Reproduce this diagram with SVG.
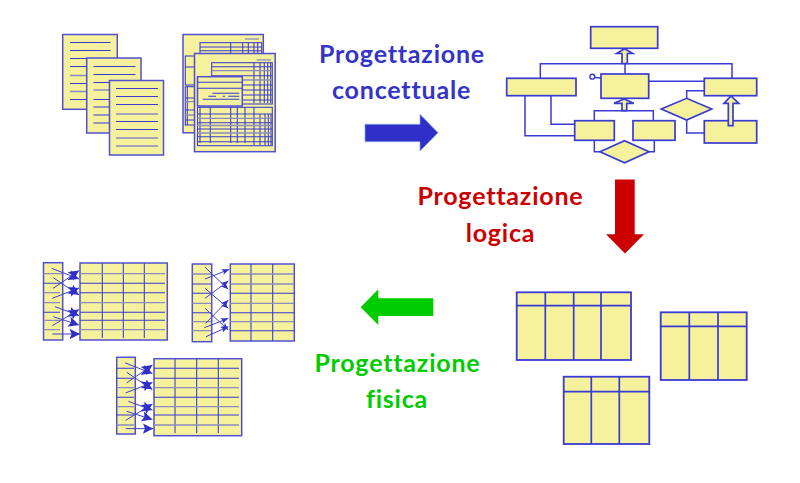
<svg xmlns="http://www.w3.org/2000/svg" width="800" height="483" viewBox="0 0 800 483">
<style>
.box{fill:#f5f19d;stroke:#3a3ad4;stroke-width:1.7}
.soft{fill:#f5f19d;stroke:#5050d0;stroke-width:1.5}
.ln{fill:none;stroke:#3a3ad4;stroke-width:1.05}
.gr{fill:none;stroke:#8c8cc0;stroke-width:1.3}
.wire{fill:none;stroke:#3a3ad4;stroke-width:1.5}
.tb{fill:#f5f19d;stroke:#3a3ad4;stroke-width:1.8}
.tl{fill:none;stroke:#3a3ad4;stroke-width:1.7}
.ar path{fill:none;stroke:#4040d0;stroke-width:1;marker-end:url(#tip)}
.ab path{fill:none;stroke:#4040d0;stroke-width:1;marker-end:url(#tipb)}
.t{font-family:Lato,"Liberation Sans",sans-serif;font-weight:700;font-size:25px;letter-spacing:.8px;text-anchor:middle}
</style>
<defs>
<marker id="tip" viewBox="0 0 10 10" refX="10" refY="5" markerWidth="7.5" markerHeight="7.5" orient="auto" markerUnits="userSpaceOnUse"><path d="M0 1L10 5L0 9L2.5 5z" fill="#3030c8"/></marker>
<marker id="tipb" viewBox="0 0 10 10" refX="10" refY="5" markerWidth="10.5" markerHeight="10.5" orient="auto" markerUnits="userSpaceOnUse"><path d="M0 0L10 5L0 10L2 5z" fill="#3030c8"/></marker>
<g id="links" class="ab">
<path d="M51.7 268.3L79 279"/><path d="M53.3 288.3L79 270.5"/><path d="M53.3 277.7L79 295"/><path d="M52.3 298.3L79 288"/>
<path d="M55 306.7L79 315.5"/><path d="M53.3 316.7L79 325"/><path d="M52.3 325.7L79 309.5"/><path d="M52.3 334L80 334"/>
</g>
</defs>

<g id="doc-1">
<rect class="soft" x="62.7" y="34.5" width="54.6" height="74.8"/>
<path class="ln" d="M70 42.5H110.5M70 50.5H110.5M70 58.5H110.5M70 66.5H110.5M70 83.5H110.5M70 99.5H110.5"/>
<path class="gr" d="M70 75.5H110.5M70 91.5H110.5"/>
</g>
<g id="doc-2">
<rect class="soft" x="86.7" y="58" width="54.3" height="75"/>
<path class="ln" d="M93.5 66.5H135.5M93.5 74.5H135.5M93.5 82.5H135.5M93.5 99.5H135.5M93.5 107H135.5M93.5 115H135.5M93.5 123H135.5"/>
<path class="gr" d="M93.5 90H135.5"/>
</g>
<g id="doc-3">
<rect class="soft" x="109.5" y="80.5" width="54" height="74.5"/>
<path class="ln" d="M116 88.5H158M116 96.5H158M116 104.5H158M116 121.5H158M116 129.5H158"/>
<path class="gr" d="M116 114H158M116 138H158M116 146H158"/>
</g>

<g id="form-back">
<rect class="soft" x="183" y="34.5" width="80.3" height="98.3"/>
<path class="gr" d="M245 39H259"/>
<rect class="ln" x="200" y="42.7" width="61.7" height="20"/>
<path class="ln" d="M200 47H261.7M200 50.7H261.7M230.7 42.7V60M242.7 42.7V60M248.3 42.7V60M254 42.7V60M257.7 42.7V60"/>
<rect class="ln" x="185.3" y="56" width="12" height="29"/>
<path class="ln" d="M185.3 67H197"/>
<rect class="ln" x="185.3" y="86.7" width="12" height="38.3"/>
<path class="ln" d="M187.3 86.7V125M185.3 98H197M185.3 110H197M185.3 120H197"/>
<path class="gr" d="M185.3 101.7H197M185.3 115H197"/>
</g>
<g id="form-front">
<rect class="soft" x="194.5" y="53.5" width="80.7" height="98.2"/>
<path class="gr" d="M256.7 60H271"/>
<rect class="ln" x="211.7" y="62.7" width="60.6" height="41.3"/>
<path class="ln" d="M211.7 66.7H272M211.7 75.7H272M211.7 85H272M211.7 90H272M211.7 95H272M211.7 100H272M254 62.7V103M260 62.7V103M264.3 62.7V103M267.7 62.7V103M270.7 62.7V103"/>
<path class="gr" d="M211.7 70.7H272M211.7 80H272"/>
<rect class="soft" x="197.5" y="76.7" width="44.8" height="29.3"/>
<path class="ln" d="M197.5 82.3H242M197.5 88.3H242M212.3 93.3H239.3M208.3 96.3H216M222.7 96.3H225M228.3 96.3H239.3M202.7 99.3H239.3"/>
<rect class="ln" x="197.5" y="107.3" width="74.8" height="38.4"/>
<path class="ln" d="M197.5 114H272M197.5 122.7H272M197.5 129H272M197.5 136.7H272M197.5 141.7H272M200 107.3V143M210.3 107.3V143M230.7 107.3V143M237.3 107.3V143M245 107.3V143M254 107.3V145M260 114V145M265 114V145M268.3 114V145M271 114V145"/>
<path class="gr" d="M197.5 118.3H272M197.5 125.5H272M197.5 133H272"/>
</g>

<g id="connectors">
<path class="wire" d="M540.3 78.3V63.7H732V78.3M625 74V63.7M648.7 81.3H704.3M704.3 90.7H686.7V98.3M686.7 120V133H704.3M525 95.7V135.7H574.7M551 95.7V124.3H574.7M594.3 120.7V110.7H653.3V120.7M594.3 140.3V151.7H600M654.3 140.3V151.7H649M594.8 77.4L601 78"/>
</g>
<g id="flow-top"><rect class="box" x="590.7" y="26.7" width="67" height="21.6"/></g>
<g id="flow-left"><rect class="box" x="506.7" y="78.3" width="69.3" height="17.4"/></g>
<g id="flow-center"><rect class="box" x="601" y="74" width="47.7" height="24.3"/><circle cx="592.3" cy="76.7" r="2.4" fill="#fff" stroke="#3a3ad4" stroke-width="1.4"/></g>
<g id="flow-right"><rect class="box" x="704.3" y="78.3" width="52.4" height="17.4"/></g>
<g id="flow-lower-right"><rect class="box" x="704.3" y="120.7" width="52.4" height="22.3"/></g>
<g id="flow-mid-1"><rect class="box" x="574.7" y="120.7" width="39.6" height="19.6"/></g>
<g id="flow-mid-2"><rect class="box" x="633" y="120.7" width="42" height="19.6"/></g>
<g id="flow-dia-1"><path class="box" d="M600 151.7L624.5 140.7L649 151.7L624.5 162.7z"/></g>
<g id="flow-dia-2"><path class="box" d="M661.3 109L686.6 98.3L711.7 109L686.6 120z"/></g>
<g id="hollow-arrows">
<path class="box" d="M622 63.5V53.5H616.7L624.6 48.8L632.7 53.5H627.3V63.5z"/>
<path class="box" d="M622 110.7V103.3H614L624.2 99L633.7 103.3H626.7V110.7z"/>
<path class="box" d="M728.3 125.7V103.3H724L731 96L738.7 103.3H733V125.7z"/>
</g>

<g id="table-1">
<rect class="tb" x="516.7" y="292.3" width="114.3" height="67.7"/>
<path class="tl" d="M516.7 305.7H631M545.3 292.3V360M573.7 292.3V360M601 292.3V360"/>
</g>
<g id="table-2">
<rect class="tb" x="660.7" y="312.3" width="86" height="67.7"/>
<path class="tl" d="M660.7 326.3H746.7M689.3 312.3V380M718 312.3V380"/>
</g>
<g id="table-3">
<rect class="tb" x="563.7" y="376.7" width="85.6" height="67.3"/>
<path class="tl" d="M563.7 391.7H649.3M591.3 376.7V444M619.3 376.7V444"/>
</g>

<g id="phys-1">
<rect class="soft" x="43.5" y="262.7" width="19.2" height="77.3"/>
<path class="ln" d="M43.5 283.3H60M43.5 312.3H60"/>
<path class="gr" d="M43.5 273.7H62M43.5 292.7H60M43.5 302.7H60M43.5 320.3H60M43.5 329.7H60"/>
<rect class="soft" x="80" y="263" width="87.3" height="77"/>
<path class="ln" d="M80 283.3H165M80 292.7H165M80 312.3H165M80 320.3H165M102.3 263V338M123.3 263V338M144.3 263V338"/>
<path class="gr" d="M80 273.7H165M80 302.7H165M80 329.7H165"/>
<use href="#links"/>
</g>
<g id="phys-2">
<rect class="soft" x="192.3" y="264" width="19.4" height="77.7"/>
<path class="ln" d="M192.3 284H211M192.3 293.3H211M192.3 312.7H211"/>
<path class="gr" d="M192.3 274H211M192.3 303.3H211M192.3 321.7H211M192.3 330.7H211"/>
<rect class="soft" x="230.3" y="264" width="64" height="77"/>
<path class="ln" d="M230.3 293.3H294M230.3 312.7H294M230.3 330.7H294M251 264V341M272.7 264V341"/>
<path class="gr" d="M230.3 274H294M230.3 284H294M230.3 303.3H294M230.3 321.7H294"/>
<g class="ar">
<path d="M205 279L229.3 269.3"/><path d="M205 267.3L228.3 289.3"/><path d="M205 298.3L228.3 281"/><path d="M205 288.3L228.3 308.3"/>
<path d="M205.7 323.3L228.3 300"/><path d="M205 308.3L228.3 330"/><path d="M204.3 327.7L228.3 318.3"/><path d="M206 336.7L228.3 326.7"/>
</g>
</g>
<g id="phys-3">
<rect class="soft" x="116.7" y="357.3" width="18.6" height="76.7"/>
<path class="ln" d="M116.7 368.3H134M116.7 378.3H134M116.7 397.3H134M116.7 415H134"/>
<path class="gr" d="M116.7 387.7H134M116.7 406.7H134M116.7 425H134"/>
<rect class="soft" x="154" y="358.7" width="87.7" height="77"/>
<path class="ln" d="M154 368.3H239M154 378.3H239M154 397.3H239M154 415H239M175 358.7V433M196.7 358.7V433M218.3 358.7V433"/>
<path class="gr" d="M154 387.7H239M154 406.7H239M154 425H239"/>
<use href="#links" transform="translate(73.4 94.6)"/>
</g>

<g id="step-concettuale">
<path d="M365 124.3H420V114.3L438 132.7L420 151V141.7H365z" fill="#3030c8" stroke="#7fa8e8" stroke-width=".7"/>
<text class="t" x="402" y="62.5" fill="#3434c8">Progettazione</text>
<text class="t" x="401.5" y="99" fill="#3434c8">concettuale</text>
</g>
<g id="step-logica">
<path d="M615 179.5H634.7V234.3H644L625 253.5L606 234.3H615z" fill="#cc0000"/>
<text class="t" x="500.5" y="205" fill="#cc0000">Progettazione</text>
<text class="t" x="500.5" y="241.5" fill="#cc0000">logica</text>
</g>
<g id="step-fisica">
<path d="M433.3 298.3V316H378.3V325L360.7 307.3L378.3 289.3V298.3z" fill="#00cc00"/>
<text class="t" x="397.5" y="372.3" fill="#00cc00">Progettazione</text>
<text class="t" x="397" y="407.5" fill="#00cc00">fisica</text>
</g>
</svg>
